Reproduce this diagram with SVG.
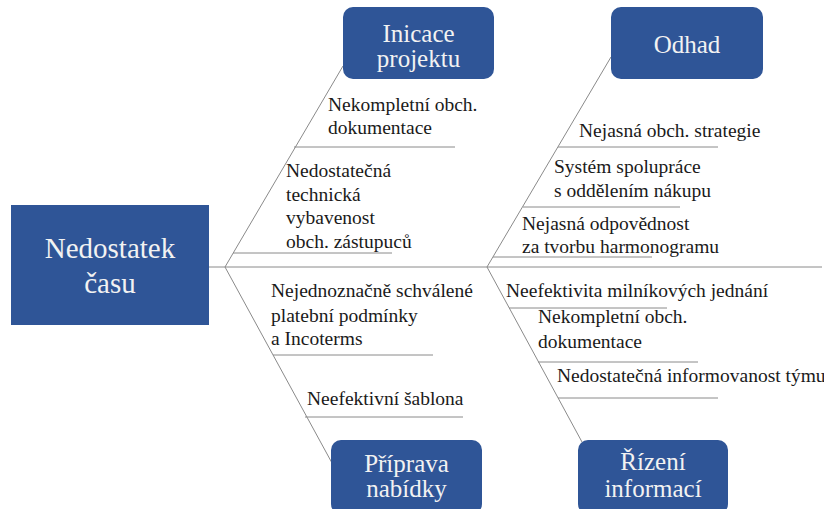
<svg xmlns="http://www.w3.org/2000/svg" width="824" height="509" viewBox="0 0 824 509">
<defs>
<linearGradient id="unused" x1="0" y1="0" x2="1" y2="0"><stop offset="0" stop-color="#2F5597"/></linearGradient>
</defs>
<rect width="824" height="509" fill="#FFFFFF"/>
<g id="connectors" stroke="#8A8A8A" stroke-width="1" fill="none">
<line x1="209" y1="267" x2="822" y2="267"/>
<line x1="343" y1="66" x2="225" y2="267"/>
<line x1="225" y1="267" x2="332" y2="463"/>
<line x1="611" y1="57" x2="487" y2="267"/>
<line x1="487" y1="267" x2="582" y2="442"/>
<line x1="294" y1="147" x2="455" y2="147"/>
<line x1="233" y1="253" x2="392" y2="253"/>
<line x1="558" y1="147" x2="718" y2="147"/>
<line x1="523" y1="207" x2="680" y2="207"/>
<line x1="493" y1="257" x2="652" y2="257"/>
<line x1="273" y1="355" x2="433" y2="355"/>
<line x1="305" y1="417" x2="463" y2="417"/>
<line x1="509" y1="308" x2="667" y2="308"/>
<line x1="538" y1="362" x2="698" y2="362"/>
<line x1="558" y1="398" x2="718" y2="398"/>
</g>
<g id="node-main">
<rect x="11" y="205" width="198" height="120" fill="#2F5597"/>
</g>
<g id="node-inicace">
<rect x="343" y="7" width="151" height="72" rx="10" fill="#2F5597"/>
</g>
<g id="node-odhad">
<rect x="611" y="7" width="152" height="72" rx="10" fill="#2F5597"/>
</g>
<g id="node-priprava">
<rect x="331" y="440" width="151" height="74" rx="10" fill="#2F5597"/>
</g>
<g id="node-rizeni">
<rect x="578" y="440" width="150" height="74" rx="10" fill="#2F5597"/>
</g>
<text x="110" y="258" font-size="29" font-family="'Liberation Serif'" fill="#F2F2F2" text-anchor="middle">Nedostatek</text>
<text x="110" y="293" font-size="29" font-family="'Liberation Serif'" fill="#F2F2F2" text-anchor="middle">času</text>
<text x="418.5" y="42" font-size="25" font-family="'Liberation Serif'" fill="#F2F2F2" text-anchor="middle">Inicace</text>
<text x="418.5" y="67" font-size="25" font-family="'Liberation Serif'" fill="#F2F2F2" text-anchor="middle">projektu</text>
<text x="687" y="53" font-size="25" font-family="'Liberation Serif'" fill="#F2F2F2" text-anchor="middle">Odhad</text>
<text x="406.5" y="472" font-size="25" font-family="'Liberation Serif'" fill="#F2F2F2" text-anchor="middle">Příprava</text>
<text x="406.5" y="497" font-size="25" font-family="'Liberation Serif'" fill="#F2F2F2" text-anchor="middle">nabídky</text>
<text x="653" y="470" font-size="25" font-family="'Liberation Serif'" fill="#F2F2F2" text-anchor="middle">Řízení</text>
<text x="653" y="497" font-size="25" font-family="'Liberation Serif'" fill="#F2F2F2" text-anchor="middle">informací</text>
<text x="328" y="111" font-size="19.5" font-family="'Liberation Serif'" fill="#1A1A1A">Nekompletní obch.</text>
<text x="328" y="134" font-size="19.5" font-family="'Liberation Serif'" fill="#1A1A1A">dokumentace</text>
<text x="286" y="177" font-size="19.5" font-family="'Liberation Serif'" fill="#1A1A1A">Nedostatečná</text>
<text x="286" y="201" font-size="19.5" font-family="'Liberation Serif'" fill="#1A1A1A">technická</text>
<text x="286" y="224" font-size="19.5" font-family="'Liberation Serif'" fill="#1A1A1A">vybavenost</text>
<text x="286" y="248" font-size="19.5" font-family="'Liberation Serif'" fill="#1A1A1A">obch. zástupuců</text>
<text x="579" y="137" font-size="19.5" font-family="'Liberation Serif'" fill="#1A1A1A">Nejasná obch. strategie</text>
<text x="554" y="173" font-size="19.5" font-family="'Liberation Serif'" fill="#1A1A1A">Systém spolupráce</text>
<text x="554" y="197" font-size="19.5" font-family="'Liberation Serif'" fill="#1A1A1A">s oddělením nákupu</text>
<text x="522" y="230" font-size="19.5" font-family="'Liberation Serif'" fill="#1A1A1A">Nejasná odpovědnost</text>
<text x="522" y="253" font-size="19.5" font-family="'Liberation Serif'" fill="#1A1A1A">za tvorbu harmonogramu</text>
<text x="271" y="297" font-size="19.5" font-family="'Liberation Serif'" fill="#1A1A1A">Nejednoznačně schválené</text>
<text x="271" y="322" font-size="19.5" font-family="'Liberation Serif'" fill="#1A1A1A">platební podmínky</text>
<text x="271" y="345" font-size="19.5" font-family="'Liberation Serif'" fill="#1A1A1A">a Incoterms</text>
<text x="307" y="405" font-size="19.5" font-family="'Liberation Serif'" fill="#1A1A1A">Neefektivní šablona</text>
<text x="506" y="297" font-size="19.5" font-family="'Liberation Serif'" fill="#1A1A1A">Neefektivita milníkových jednání</text>
<text x="538" y="323" font-size="19.5" font-family="'Liberation Serif'" fill="#1A1A1A">Nekompletní obch.</text>
<text x="538" y="348" font-size="19.5" font-family="'Liberation Serif'" fill="#1A1A1A">dokumentace</text>
<text x="557" y="382" font-size="19.5" font-family="'Liberation Serif'" fill="#1A1A1A">Nedostatečná informovanost týmu</text>
</svg>
